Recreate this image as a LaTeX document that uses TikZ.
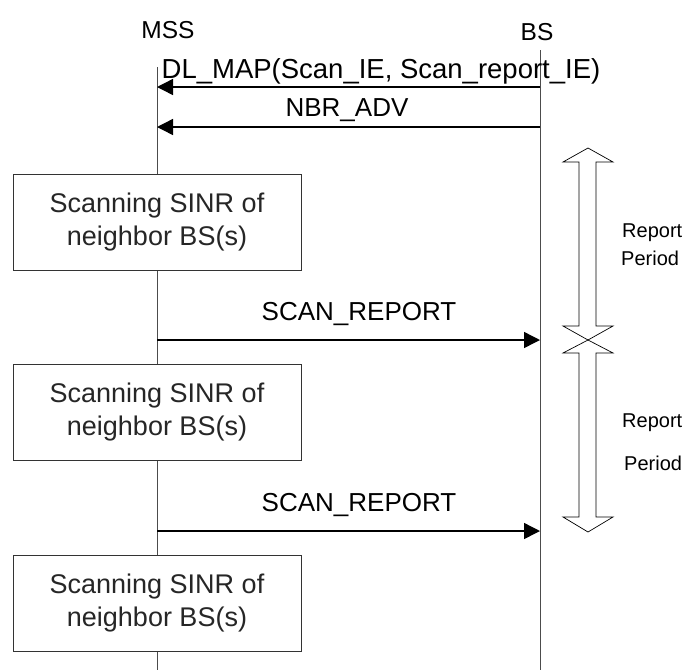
\documentclass[tikz,border=0pt]{standalone}
\usepackage{fontspec}
\setmainfont{Liberation Sans}
\usetikzlibrary{arrows.meta}
\begin{document}
\begin{tikzpicture}[x=1pt,y=-1pt,
  lifeline/.style={draw=black!70,line width=0.9pt},
  msg/.style={draw=black,line width=1.4pt,-{Triangle[length=16pt,width=16pt]}},
  msgtext/.style={font=\fontsize{26}{30}\selectfont,inner sep=0pt},
  headtext/.style={font=\fontsize{24.5}{28}\selectfont,inner sep=0pt},
  scanbox/.style={draw=black!80,line width=0.9pt,fill=white,minimum width=288pt,minimum height=96pt,
    align=center,font=\fontsize{27}{33}\selectfont,text=black!85,inner sep=0pt},
  period/.style={font=\fontsize{20}{24}\selectfont,inner sep=0pt,anchor=west},
  hollow/.style={draw=black,line width=0.7pt,fill=white}]
\useasboundingbox (0,0) rectangle (693,670);
% headers
\node[headtext] (mss) at (168,30) {MSS};
\node[headtext] (bs) at (537,32) {BS};
% lifelines
\coordinate (mssTop) at (157,67);
\coordinate (mssBot) at (157,670);
\coordinate (bsTop) at (540,50);
\coordinate (bsBot) at (540,670);
\draw[lifeline] (mssTop) -- (mssBot);
\draw[lifeline] (bsTop) -- (bsBot);
% message anchor points
\coordinate (b1) at (540,87);  \coordinate (m1) at (157,87);
\coordinate (b2) at (540,127); \coordinate (m2) at (157,127);
\coordinate (m3) at (157,340); \coordinate (b3) at (540,340);
\coordinate (m4) at (157,531); \coordinate (b4) at (540,531);
\draw[msg] (b1) -- (m1);
\draw[msg] (b2) -- (m2);
\draw[msg] (m3) -- (b3);
\draw[msg] (m4) -- (b4);
\node[msgtext,font=\fontsize{27.5}{31}\selectfont] (t1) at (381,71) {DL\_MAP(Scan\_IE, Scan\_report\_IE)};
\node[msgtext] (t2) at (347,110) {NBR\_ADV};
\node[msgtext] (t3) at (359,314) {SCAN\_REPORT};
\node[msgtext] (t4) at (359,505) {SCAN\_REPORT};
% scanning boxes
\node[scanbox] (s1) at (157,222) {Scanning SINR of\\neighbor BS(s)};
\node[scanbox] (s2) at (157,412) {Scanning SINR of\\neighbor BS(s)};
\node[scanbox] (s3) at (157,603) {Scanning SINR of\\neighbor BS(s)};
% report period double arrows
\draw[hollow] (579,162) -- (563,162) -- (588,148) -- (613,162) -- (596,162) -- (596,326)
  -- (613,326) -- (588,340) -- (563,326) -- (579,326) -- cycle;
\draw[hollow] (579,353) -- (563,353) -- (588,340) -- (613,353) -- (596,353) -- (596,517)
  -- (613,517) -- (588,532) -- (563,517) -- (579,517) -- cycle;
\node[period] (r1) at (622,233) {Report};
\node[period] (p1) at (621,258) {Period};
\node[period] (r2) at (622,423) {Report};
\node[period] (p2) at (624,463) {Period};
\end{tikzpicture}
\end{document}
